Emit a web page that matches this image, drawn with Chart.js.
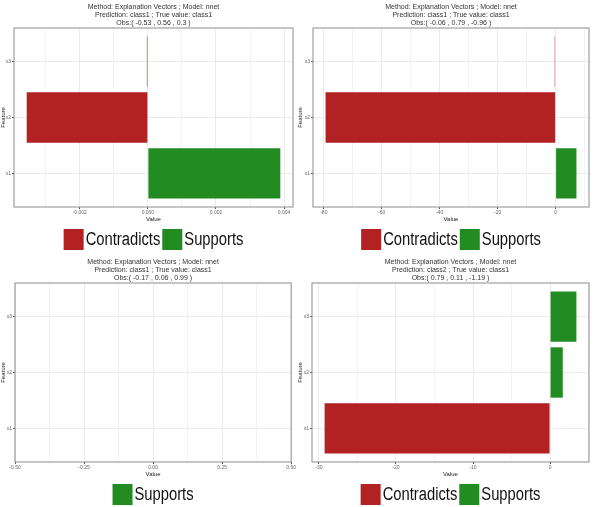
<!DOCTYPE html>
<html>
<head>
<meta charset="utf-8">
<script src="https://cdn.jsdelivr.net/npm/chart.js@4.4.1/dist/chart.umd.min.js"></script>
<style>
  html, body { margin: 0; padding: 0; background: #fff; overflow: hidden; }
  .panel { position: absolute; width: 297px; height: 260px; }
</style>
</head>
<body>
<div class="panel" style="left:0;top:0"><canvas id="c1" width="297" height="260"></canvas></div>
<div class="panel" style="left:297px;top:0"><canvas id="c2" width="297" height="260"></canvas></div>
<div class="panel" style="left:0;top:255px"><canvas id="c3" width="297" height="260"></canvas></div>
<div class="panel" style="left:297px;top:255px"><canvas id="c4" width="297" height="260"></canvas></div>
<script>
// Shared text
const features = ['x1', 'x2', 'x3'];
const methodLine = 'Method: Explanation Vectors ; Model: nnet';

// Panel 1 (top left)
const pred1 = 'Prediction: class1 ; True value: class1';
const obs1 = 'Obs:( -0.53 , 0.56 , 0.3 )';
const values1 = [0.00389, -0.00356, -0.00003];
const tickLabels1 = ['-0.002', '0.000', '0.002', '0.004'];

// Panel 2 (top right)
const pred2 = 'Prediction: class1 ; True value: class1';
const obs2 = 'Obs:( -0.06 , 0.79 , -0.96 )';
const values2 = [7.2, -79.4, -0.3];
const tickLabels2 = ['-80', '-60', '-40', '-20', '0'];

// Panel 3 (bottom left)
const pred3 = 'Prediction: class1 ; True value: class1';
const obs3 = 'Obs:( -0.17 , 0.06 , 0.99 )';
const values3 = [0, 0, 0];
const tickLabels3 = ['-0.50', '-0.25', '0.00', '0.25', '0.50'];

// Panel 4 (bottom right)
const pred4 = 'Prediction: class2 ; True value: class1';
const obs4 = 'Obs:( 0.79 , 0.11 , -1.19 )';
const values4 = [-29.26, 1.65, 3.42];
const tickLabels4 = ['-30', '-20', '-10', '0'];

const FONT = '"Liberation Sans Narrow", "Liberation Sans", Arial, sans-serif';
const RED = '#B22222';
const GREEN = '#228B22';
const GRID = '#ebebeb';

// ggplot style range: include 0, pad 5%, unit width if all zero
function valueRange(vals) {
    const lo = Math.min(0, ...vals);
    const hi = Math.max(0, ...vals);
    if (hi - lo === 0) return [lo - 0.5, hi + 0.5];
    const pad = (hi - lo) * 0.05;
    return [lo - pad, hi + pad];
}

// grey box round the plot panel
const panelBorder = {
    id: 'panelBorder',
    afterDatasetsDraw(chart) {
        const { ctx, chartArea: a } = chart;
        ctx.save();
        ctx.strokeStyle = '#8c8c8c';
        ctx.lineWidth = 1;
        ctx.strokeRect(a.left, a.top, a.right - a.left, a.bottom - a.top);
        ctx.restore();
    }
};

// big legend under the axis, boxes sit tight against the text like ggplot's
const bottomLegend = {
    id: 'bottomLegend',
    afterDraw(chart) {
        const { ctx, chartArea: a } = chart;
        const items = chart.data.datasets.filter(d => d.data.length > 0);
        const squeeze = 0.82; // narrow glyphs
        const box = 20, boxH = 21, gap = 2, space = 2;
        ctx.save();
        ctx.font = '18px ' + FONT;
        const widths = items.map(d => ctx.measureText(d.label).width * squeeze);
        const total = widths.reduce((s, w) => s + box + gap + w, 0) + space * (items.length - 1);
        let x = (a.left + a.right) / 2 - total / 2;
        const top = a.bottom + 22;
        items.forEach((d, i) => {
            ctx.fillStyle = d.backgroundColor;
            ctx.fillRect(x, top, box, boxH);
            x += box + gap;
            ctx.save();
            ctx.translate(x, top + boxH / 2 + 1);
            ctx.scale(squeeze, 1);
            ctx.fillStyle = '#111';
            ctx.textBaseline = 'middle';
            ctx.fillText(d.label, 0, 0);
            ctx.restore();
            x += widths[i] + space;
        });
        ctx.restore();
    }
};

function makeChart(id, pred, obs, values, tickLabels, leftWidth, rightPad) {
    const majors = tickLabels.map(Number);
    const step = majors[1] - majors[0];
    const [lo, hi] = valueRange(values);
    const majorIndex = v => majors.findIndex(m => Math.abs(m - v) < step * 1e-3);
    const isMajor = c => c.tick && majorIndex(c.tick.value) >= 0;
    const points = values.map((v, i) => ({ x: v, y: i + 1 }));

    const barOpts = { borderWidth: 0, grouped: false, categoryPercentage: 1, barPercentage: 0.9 };

    return new Chart(document.getElementById(id), {
        type: 'bar',
        data: {
            datasets: [
                Object.assign({ label: 'Contradicts', data: points.filter(p => p.x < 0), backgroundColor: RED, borderColor: RED }, barOpts),
                Object.assign({ label: 'Supports', data: points.filter(p => p.x >= 0), backgroundColor: GREEN, borderColor: GREEN }, barOpts)
            ]
        },
        options: {
            animation: false,
            responsive: false,
            indexAxis: 'y',
            layout: { padding: { left: 0, right: rightPad, top: 0, bottom: 36 } },
            plugins: {
                title: {
                    display: true,
                    text: [methodLine, pred, obs],
                    fullSize: false,
                    color: '#333',
                    font: { family: FONT, size: 7, weight: 'normal', lineHeight: 8 / 7 },
                    padding: { top: 3, bottom: 1 }
                },
                legend: { display: false },
                tooltip: { enabled: false }
            },
            scales: {
                x: {
                    type: 'linear',
                    min: lo,
                    max: hi,
                    border: { display: false },
                    grid: {
                        color: GRID,
                        lineWidth: c => isMajor(c) ? 1 : 0.6,
                        tickLength: 2,
                        tickColor: c => isMajor(c) ? '#555' : 'rgba(0,0,0,0)'
                    },
                    ticks: {
                        stepSize: step / 2,
                        includeBounds: false,
                        autoSkip: false,
                        maxRotation: 0,
                        maxTicksLimit: 100,
                        padding: 1,
                        color: '#666',
                        font: { family: FONT, size: 5 },
                        callback: v => {
                            const i = majorIndex(v);
                            return i >= 0 ? tickLabels[i] : '';
                        }
                    },
                    title: {
                        display: true,
                        text: 'Value',
                        color: '#222',
                        font: { family: FONT, size: 6 },
                        padding: { top: 0, bottom: 1 }
                    },
                    afterFit: s => { s.height = 17; }
                },
                y: {
                    type: 'linear',
                    min: 0.4,
                    max: features.length + 0.6,
                    offset: false,
                    border: { display: false },
                    grid: { offset: false, color: GRID, tickLength: 2, tickColor: '#555' },
                    ticks: {
                        stepSize: 1,
                        includeBounds: false,
                        autoSkip: false,
                        padding: 1,
                        color: '#666',
                        font: { family: FONT, size: 5 },
                        callback: v => features[v - 1] || ''
                    },
                    title: {
                        display: true,
                        text: 'Feature',
                        color: '#222',
                        font: { family: FONT, size: 6 },
                        padding: 0
                    },
                    afterFit: s => { s.width = leftWidth; }
                }
            }
        },
        plugins: [panelBorder, bottomLegend]
    });
}

makeChart('c1', pred1, obs1, values1, tickLabels1, 14, 4);
makeChart('c2', pred2, obs2, values2, tickLabels2, 16, 5);
makeChart('c3', pred3, obs3, values3, tickLabels3, 15, 4);
makeChart('c4', pred4, obs4, values4, tickLabels4, 15, 5);
</script>
</body>
</html>
